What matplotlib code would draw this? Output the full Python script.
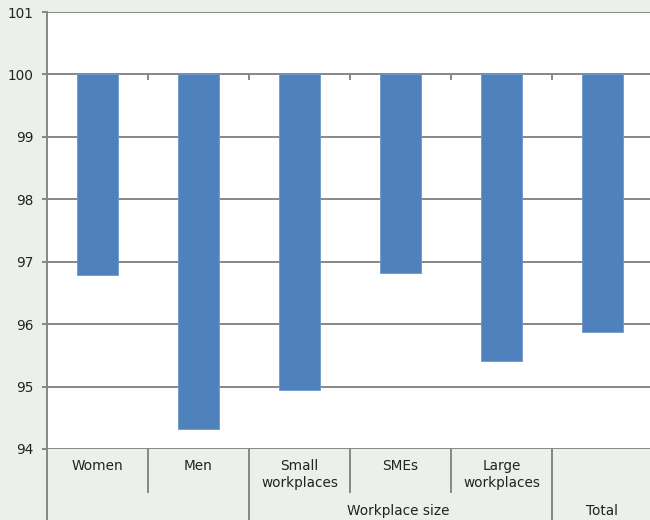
import matplotlib
matplotlib.use("Agg")
import matplotlib.pyplot as plt
import numpy as np

categories = ["Women", "Men", "Small\nworkplaces", "SMEs", "Large\nworkplaces", "Total"]
row_labels = ["Women", "Men", "Small\nworkplaces", "SMEs", "Large\nworkplaces", ""]
values = [96.79, 94.32, 94.94, 96.82, 95.41, 95.87]
baseline = 100
group_labels = ["Workplace size", "Total"]
yticks = [94, 95, 96, 97, 98, 99, 100, 101]

bg = "#EBF1EA"
gridc = "#878787"
barc = "#4F81BD"
fs = 9.8

fig = plt.figure(figsize=(6.5, 5.2), dpi=100, facecolor=bg)
W, H = 650, 520
left, right, top, bottom = 47, 653, 12, 449
ax = fig.add_axes([left / W, 1 - bottom / H, (right - left) / W, (bottom - top) / H])
ax.set_facecolor("white")

x = np.arange(len(categories))
heights = [v - baseline for v in values]
ax.bar(x, heights, bottom=baseline, width=0.4, color=barc, edgecolor="#6E97CC", linewidth=0.6, zorder=3)

ax.set_xlim(-0.5, len(categories) - 0.5)
ax.set_ylim(94, 101)
ax.set_yticks(yticks)
ax.set_yticklabels([str(t) for t in yticks], fontsize=fs, color="#222222")
ax.yaxis.grid(True, color=gridc, linewidth=1.4, zorder=1)
ax.tick_params(axis="y", length=3.5, width=1.4, color=gridc, pad=6)
ax.set_xticks([])
for s in ["top", "right", "bottom"]:
    ax.spines[s].set_visible(False)
ax.spines["left"].set_color(gridc)
ax.spines["left"].set_linewidth(1.4)

# baseline axis ticks at category boundaries (downward from 100)
px = 1.0 / (bottom - top)
trans = ax.get_xaxis_transform()
y100 = (100 - 94) / 7
for b in np.arange(0.5, len(categories) - 0.5, 1):
    ax.plot([b, b], [y100, y100 - 5 * px], transform=trans, color=gridc, lw=1.4, clip_on=False, zorder=4)

# bottom table
ybot = -0.2
yshort = -(492 - 449) * px
ax.plot([-0.5, -0.5], [0, ybot], transform=trans, color=gridc, lw=1.4, clip_on=False)
for b, full in zip([0.5, 1.5, 2.5, 3.5, 4.5], [False, True, False, False, True]):
    ax.plot([b, b], [0, ybot if full else yshort], transform=trans, color=gridc, lw=1.4, clip_on=False)

for xi, lab in zip(x, row_labels):
    ax.text(xi, -(459 - 449) * px, lab, transform=trans, ha="center", va="top",
            fontsize=fs, color="#222222", linespacing=1.3)

ylab = -(511 - 449) * px
ax.text(2.98, ylab, group_labels[0], transform=trans, ha="center", va="center", fontsize=fs, color="#222222")
ax.text(5.0, ylab, group_labels[1], transform=trans, ha="center", va="center", fontsize=fs, color="#222222")

fig.savefig("out.png", dpi=100, facecolor=bg)
